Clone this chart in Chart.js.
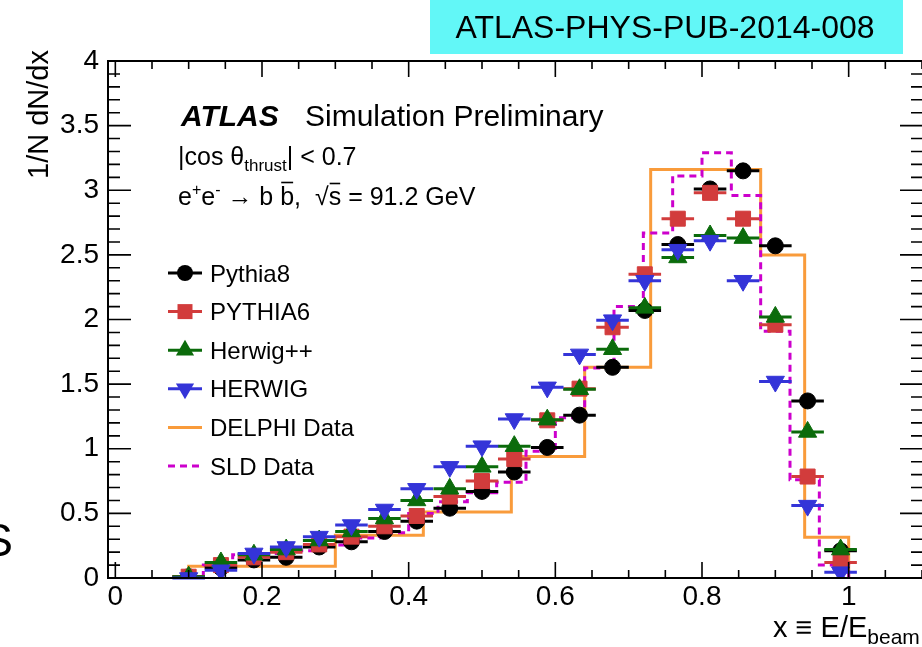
<!DOCTYPE html>
<html>
<head>
<meta charset="utf-8">
<title>b-quark fragmentation function</title>
<script src="https://cdn.jsdelivr.net/npm/chart.js@4.4.1/dist/chart.umd.min.js"></script>
<style>
  html, body { margin: 0; padding: 0; background: #fff; }
  #wrap { position: relative; width: 922px; height: 647px; overflow: hidden; }
</style>
</head>
<body>
<div id="wrap"><canvas id="fragChart" width="922" height="647"></canvas></div>
<script>
'use strict';

/* ─────────────────────────────────────────────
   DATA
   ───────────────────────────────────────────── */
// MC bin centres (x = E/E_beam) and half bin width for the horizontal bars
const mcX = [0.100, 0.144, 0.189, 0.233, 0.278, 0.322, 0.367, 0.411, 0.456, 0.500, 0.544,
             0.589, 0.633, 0.678, 0.722, 0.767, 0.811, 0.856, 0.900, 0.944, 0.989];
const mcHalfWidth = 0.0222;

const pythia8  = [0.01, 0.08, 0.14, 0.16, 0.24, 0.28, 0.36, 0.44, 0.54, 0.67, 0.82,
                  1.01, 1.26, 1.63, 2.07, 2.58, 3.01, 3.15, 2.57, 1.37, 0.21];
const pythia6  = [0.01, 0.10, 0.16, 0.20, 0.26, 0.32, 0.40, 0.48, 0.63, 0.75, 0.92,
                  1.22, 1.465, 1.94, 2.35, 2.78, 2.98, 2.78, 1.96, 0.785, 0.12];
const herwigpp = [0.01, 0.12, 0.18, 0.22, 0.29, 0.36, 0.46, 0.60, 0.69, 0.86, 1.02,
                  1.225, 1.46, 1.77, 2.09, 2.48, 2.65, 2.63, 2.02, 1.13, 0.22];
const herwig   = [0.00, 0.06, 0.19, 0.24, 0.32, 0.41, 0.53, 0.69, 0.86, 1.02, 1.23,
                  1.475, 1.73, 1.995, 2.30, 2.54, 2.61, 2.30, 1.52, 0.56, 0.045];

// measured distributions, stored as bin edges + contents
const delphiEdges = [0.10, 0.30, 0.42, 0.54, 0.64, 0.73, 0.88, 0.94, 1.00];
const delphiVals  = [0.09, 0.33, 0.51, 0.94, 1.63, 3.16, 2.50, 0.315];

const sldEdges = [0.12, 0.16, 0.20, 0.24, 0.28, 0.32, 0.36, 0.40, 0.44, 0.48, 0.52, 0.56,
                  0.60, 0.64, 0.68, 0.72, 0.76, 0.80, 0.84, 0.88, 0.92, 0.96, 1.00];
const sldVals  = [0.10, 0.18, 0.19, 0.21, 0.255, 0.31, 0.35, 0.50, 0.59, 0.66, 0.74,
                  0.98, 1.24, 1.625, 2.10, 2.67, 3.11, 3.29, 2.96, 1.91, 0.76, 0.10];

const xMajor = [0, 0.2, 0.4, 0.6, 0.8, 1];
const yMajor = [0, 0.5, 1, 1.5, 2, 2.5, 3, 3.5, 4];

/* ─────────────────────────────────────────────
   THEME
   ───────────────────────────────────────────── */
const FONT = '"Liberation Sans", Arial, Helvetica, sans-serif';
const COLORS = {
    pythia8: '#000000',
    pythia6: '#d23c3c',
    herwigpp: '#0b6b0b',
    herwig: '#3434d8',
    delphi: '#f99b3b',
    sld: '#cc00cc',
};

Chart.defaults.font.family = FONT;
Chart.defaults.color = '#000';

/* ─────────────────────────────────────────────
   HELPERS
   ───────────────────────────────────────────── */
function points(values) {
    return values.map((v, i) => ({ x: mcX[i], y: v }));
}

// step outline: rises at the first edge, falls back to zero at the last
function stepOutline(edges, vals) {
    const pts = [{ x: edges[0], y: 0 }];
    vals.forEach((v, i) => pts.push({ x: edges[i], y: v }));
    pts.push({ x: edges[edges.length - 1], y: 0 });
    return pts;
}

function mcDataset(label, values, color, style, radius, order, rotation) {
    return {
        label,
        data: points(values),
        errX: mcHalfWidth,
        marker: style,
        borderColor: color,
        backgroundColor: color,
        pointStyle: style,
        pointRadius: radius,
        pointRotation: rotation || 0,
        pointBorderWidth: 1,
        pointBackgroundColor: color,
        pointBorderColor: color,
        order,
    };
}

function dataDataset(label, edges, vals, color, dash, order) {
    return {
        label,
        type: 'line',
        data: stepOutline(edges, vals),
        borderColor: color,
        borderWidth: 3,
        borderDash: dash,
        stepped: 'before',
        showLine: true,
        fill: false,
        pointRadius: 0,
        order,
    };
}

function drawMarker(ctx, style, x, y, r, rotation, color) {
    ctx.save();
    ctx.fillStyle = color;
    ctx.beginPath();
    if (style === 'circle') {
        ctx.arc(x, y, r, 0, Math.PI * 2);
    } else if (style === 'rect') {
        const s = r * Math.SQRT1_2;
        ctx.rect(x - s, y - s, 2 * s, 2 * s);
    } else {
        let a = (rotation || 0) * Math.PI / 180;
        for (let k = 0; k < 3; k++) {
            const px = x + Math.sin(a) * r, py = y - Math.cos(a) * r;
            if (k === 0) ctx.moveTo(px, py); else ctx.lineTo(px, py);
            a += 2 * Math.PI / 3;
        }
        ctx.closePath();
    }
    ctx.fill();
    ctx.restore();
}

// draws a run of text pieces (main size / sub- and superscripts)
function drawRich(ctx, x, y, parts) {
    parts.forEach(p => {
        ctx.font = (p.weight || '') + ' ' + p.size + 'px ' + FONT;
        const w = ctx.measureText(p.text).width;
        ctx.fillText(p.text, x, y + (p.dy || 0));
        if (p.overline) {
            ctx.save();
            ctx.lineWidth = 1.6;
            ctx.beginPath();
            ctx.moveTo(x + 1, y - p.size * p.overline);
            ctx.lineTo(x + w - 1, y - p.size * p.overline);
            ctx.stroke();
            ctx.restore();
        }
        x += w;
    });
    return x;
}

/* ─────────────────────────────────────────────
   PLUGINS
   ───────────────────────────────────────────── */
// horizontal bin-width bars under each MC marker set
const binBars = {
    id: 'binBars',
    beforeDatasetDraw(chart, args) {
        const ds = chart.data.datasets[args.index];
        if (!ds.errX) return;
        const { ctx, scales: { x } } = chart;
        ctx.save();
        ctx.strokeStyle = ds.borderColor;
        ctx.lineWidth = 3;
        args.meta.data.forEach((el, i) => {
            const raw = ds.data[i];
            ctx.beginPath();
            ctx.moveTo(x.getPixelForValue(raw.x - ds.errX), el.y);
            ctx.lineTo(x.getPixelForValue(raw.x + ds.errX), el.y);
            ctx.stroke();
        });
        ctx.restore();
    },
};

// ROOT style frame with inward ticks on all four sides
const frameTicks = {
    id: 'frameTicks',
    afterDatasetsDraw(chart) {
        const { ctx, chartArea: a, scales: { x, y } } = chart;
        ctx.save();
        ctx.strokeStyle = '#000';
        ctx.lineWidth = 2;
        // right edge of the frame sits just past the canvas border
        ctx.strokeRect(a.left, a.top, a.right + 2 - a.left, a.bottom - a.top);

        ctx.lineWidth = 1.6;
        ctx.beginPath();
        for (let k = 0; k <= 22; k++) {
            const v = k * 0.05;
            const px = x.getPixelForValue(v);
            const len = (k % 4 === 0) ? 16 : 8;
            ctx.moveTo(px, a.bottom); ctx.lineTo(px, a.bottom - len);
            ctx.moveTo(px, a.top); ctx.lineTo(px, a.top + len);
        }
        for (let k = 0; k <= 40; k++) {
            const py = y.getPixelForValue(k * 0.1);
            const len = (k % 5 === 0) ? 23 : 12;
            ctx.moveTo(a.left, py); ctx.lineTo(a.left + len, py);
            ctx.moveTo(a.right + 1, py); ctx.lineTo(a.right + 1 - len, py);
        }
        ctx.stroke();
        ctx.restore();
    },
};

// legend, labels and annotation text
const annotations = {
    id: 'annotations',
    afterDraw(chart) {
        const ctx = chart.ctx;
        ctx.save();
        ctx.fillStyle = '#000';
        ctx.strokeStyle = '#000';
        ctx.textBaseline = 'alphabetic';
        ctx.textAlign = 'left';

        // reference tag
        ctx.fillStyle = '#62f7f7';
        ctx.fillRect(430, 0, 473, 54);
        ctx.fillStyle = '#000';
        ctx.font = '32px ' + FONT;
        ctx.textAlign = 'center';
        ctx.fillText('ATLAS-PHYS-PUB-2014-008', 665, 38);
        ctx.textAlign = 'left';

        // experiment label
        ctx.font = 'italic bold 30px ' + FONT;
        ctx.fillText('ATLAS', 181, 126);
        ctx.font = '30px ' + FONT;
        ctx.fillText('Simulation Preliminary', 305, 126);

        drawRich(ctx, 178, 165, [
            { text: '|cos \u03B8', size: 25 },
            { text: 'thrust', size: 17, dy: 6 },
            { text: '| < 0.7', size: 25 },
        ]);
        drawRich(ctx, 178, 205, [
            { text: 'e', size: 25 },
            { text: '+', size: 16, dy: -10 },
            { text: 'e', size: 25 },
            { text: '-', size: 16, dy: -10 },
            { text: ' \u2192 b ', size: 25 },
            { text: 'b', size: 25, overline: 0.9 },
            { text: ',  \u221A', size: 25 },
            { text: 's', size: 25, overline: 0.86 },
            { text: ' = 91.2 GeV', size: 25 },
        ]);

        // legend
        const entries = chart.data.datasets.slice().sort((p, q) => p.legendIndex - q.legendIndex);
        entries.forEach((ds, i) => {
            const ly = 273 + 38.6 * i;
            ctx.save();
            ctx.strokeStyle = ds.borderColor;
            ctx.lineWidth = 3;
            ctx.setLineDash(ds.borderDash || []);
            ctx.beginPath();
            ctx.moveTo(168, ly);
            ctx.lineTo(202, ly);
            ctx.stroke();
            ctx.restore();
            if (ds.marker) drawMarker(ctx, ds.marker, 185, ly, ds.pointRadius, ds.pointRotation, ds.borderColor);
            ctx.font = '24px ' + FONT;
            ctx.fillStyle = '#000';
            ctx.fillText(ds.label, 210, ly + 8.5);
        });

        // axis titles
        ctx.save();
        ctx.translate(48, 50);
        ctx.rotate(-Math.PI / 2);
        ctx.textAlign = 'right';
        ctx.font = '29px ' + FONT;
        ctx.fillText('1/N dN/dx', 0, 0);
        ctx.restore();

        drawRich(ctx, 773, 637, [
            { text: 'x \u2261 E/E', size: 29 },
            { text: 'beam', size: 21, dy: 7 },
        ]);

        // clipped glyph at the left border
        ctx.font = '46px ' + FONT;
        ctx.textAlign = 'right';
        ctx.fillText('S', 13, 556);
        ctx.restore();
    },
};

/* ─────────────────────────────────────────────
   CHART
   ───────────────────────────────────────────── */
const datasets = [
    mcDataset('HERWIG', herwig, COLORS.herwig, 'triangle', 10.5, 0, 180),
    mcDataset('Herwig++', herwigpp, COLORS.herwigpp, 'triangle', 10.5, 1),
    mcDataset('PYTHIA6', pythia6, COLORS.pythia6, 'rect', 10.6, 2),
    mcDataset('Pythia8', pythia8, COLORS.pythia8, 'circle', 8, 3),
    dataDataset('SLD Data', sldEdges, sldVals, COLORS.sld, [7, 5], 4),
    dataDataset('DELPHI Data', delphiEdges, delphiVals, COLORS.delphi, [], 5),
];
['Pythia8', 'PYTHIA6', 'Herwig++', 'HERWIG', 'DELPHI Data', 'SLD Data'].forEach((name, i) => {
    datasets.find(d => d.label === name).legendIndex = i;
});

const tickFont = { family: FONT, size: 28 };

// keep the plot frame fixed: no extra room for overhanging tick labels
function noLabelPadding(s) {
    s.paddingLeft = 0; s.paddingRight = 0; s.paddingTop = 0; s.paddingBottom = 0;
}

new Chart(document.getElementById('fragChart').getContext('2d'), {
    type: 'scatter',
    data: { datasets },
    options: {
        responsive: false,
        animation: false,
        events: [],
        layout: { autoPadding: false, padding: { top: 61, right: 0, left: 0, bottom: 0 } },
        plugins: { legend: { display: false }, tooltip: { enabled: false } },
        scales: {
            x: {
                type: 'linear',
                min: -0.01,
                max: 1.1,
                grid: { display: false, drawTicks: false },
                border: { display: false },
                afterBuildTicks: s => { s.ticks = xMajor.map(v => ({ value: v })); },
                afterFit: s => { s.height = 69; noLabelPadding(s); },
                ticks: { font: tickFont, color: '#000', padding: 2, autoSkip: false, maxRotation: 0,
                         callback: v => String(v) },
            },
            y: {
                type: 'linear',
                min: 0,
                max: 4,
                grid: { display: false, drawTicks: false },
                border: { display: false },
                afterBuildTicks: s => { s.ticks = yMajor.map(v => ({ value: v })); },
                afterFit: s => { s.width = 108; noLabelPadding(s); },
                ticks: { font: tickFont, color: '#000', padding: 9, autoSkip: false,
                         callback: v => String(v) },
            },
        },
    },
    plugins: [binBars, frameTicks, annotations],
});
</script>
</body>
</html>
